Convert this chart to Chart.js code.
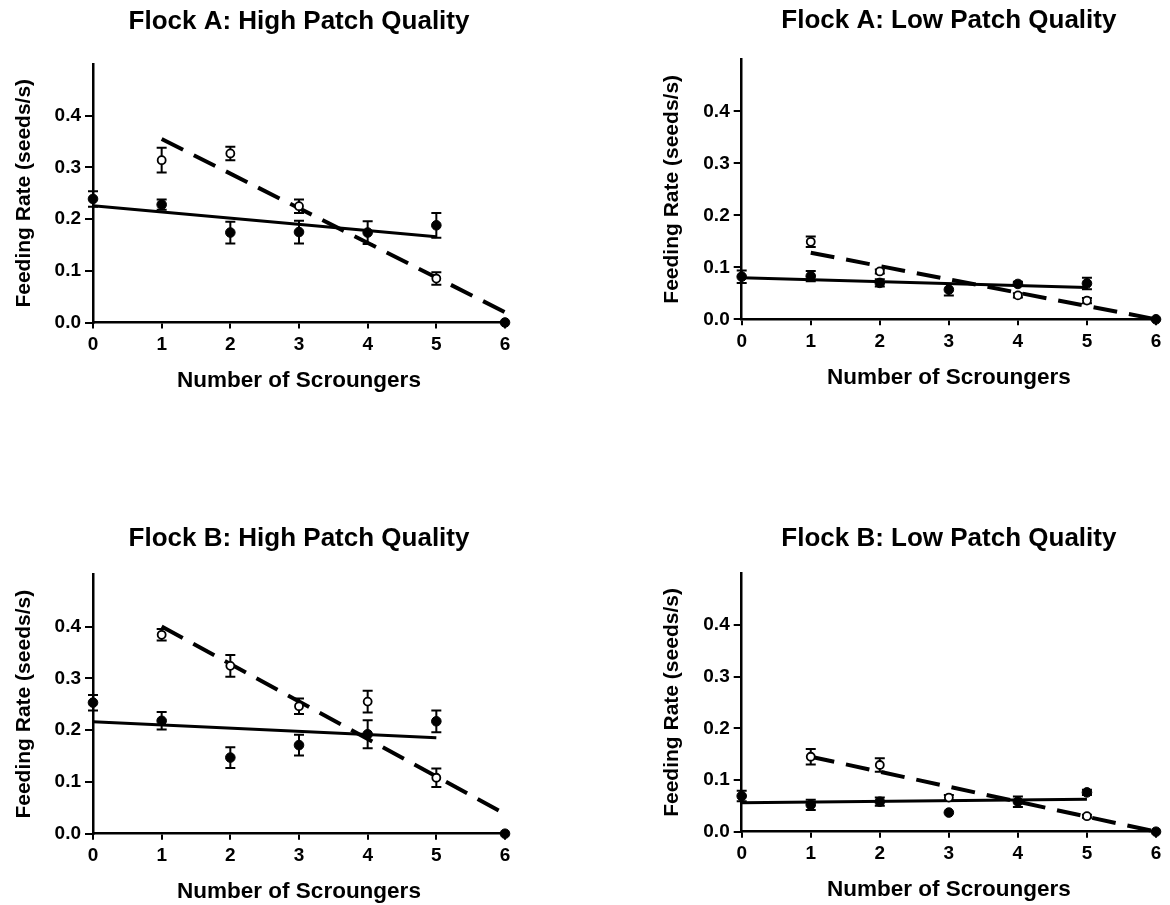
<!doctype html>
<html lang="en">
<head>
<meta charset="utf-8">
<title>Feeding rate and number of scroungers</title>
<style>
  html, body { margin: 0; padding: 0; background: #fff; }
  #wrap { position: relative; width: 1170px; height: 905px; overflow: hidden; background: #fff; }
  canvas { position: absolute; }
</style>
</head>
<body>
<div id="wrap">
  <canvas id="aHigh"></canvas>
  <canvas id="aLow"></canvas>
  <canvas id="bHigh"></canvas>
  <canvas id="bLow"></canvas>
</div>

<script src="https://cdn.jsdelivr.net/npm/chart.js"></script>
<script>
// ---- data ----
const scroungers = [0, 1, 2, 3, 4, 5, 6]
const filledFitX = [0, 5]
const openFitX = [1, 6]

// Flock A, high patch quality
const aHighFilled = [0.239, 0.228, 0.174, 0.175, 0.174, 0.188, 0.0]
const aHighFilledErr = [0.015, 0.010, 0.021, 0.022, 0.022, 0.024, 0]
const aHighOpen = [null, 0.314, 0.327, 0.225, null, 0.085, null]
const aHighOpenErr = [0, 0.024, 0.013, 0.013, 0, 0.012, 0]
const aHighFilledFit = [0.226, 0.166]
const aHighOpenFit = [0.355, 0.020]

// Flock A, low patch quality
const aLowFilled = [0.082, 0.083, 0.070, 0.057, 0.068, 0.069, 0.0]
const aLowFilledErr = [0.012, 0.010, 0.007, 0.011, 0.004, 0.011, 0]
const aLowOpen = [null, 0.149, 0.092, null, 0.046, 0.036, null]
const aLowOpenErr = [0, 0.010, 0.004, 0, 0.004, 0.005, 0]
const aLowFilledFit = [0.080, 0.061]
const aLowOpenFit = [0.128, 0.0]

// Flock B, high patch quality
const bHighFilled = [0.253, 0.218, 0.147, 0.171, 0.192, 0.217, 0.0]
const bHighFilledErr = [0.015, 0.017, 0.020, 0.020, 0.027, 0.021, 0]
const bHighOpen = [null, 0.384, 0.324, 0.246, 0.255, 0.108, null]
const bHighOpenErr = [0, 0.011, 0.021, 0.015, 0.021, 0.018, 0]
const bHighFilledFit = [0.216, 0.185]
const bHighOpenFit = [0.400, 0.038]

// Flock B, low patch quality
const bLowFilled = [0.069, 0.052, 0.058, 0.037, 0.058, 0.076, 0.0]
const bLowFilledErr = [0.010, 0.010, 0.008, 0, 0.010, 0.005, 0]
const bLowOpen = [null, 0.145, 0.129, 0.066, null, 0.030, null]
const bLowOpenErr = [0, 0.015, 0.013, 0.005, 0, 0.003, 0]
const bLowFilledFit = [0.056, 0.063]
const bLowOpenFit = [0.145, 0.0]

// ---- layout ----
const panels = [
  {
    id: 'aHigh', title: 'Flock A: High Patch Quality',
    box: { left: 0, top: 0, width: 580, height: 440 },
    area: { l: 93, r: 505, t: 64, b: 322.5 }, titleY: 22, yTitleX: 24,
    filled: aHighFilled, filledErr: aHighFilledErr, open: aHighOpen, openErr: aHighOpenErr,
    filledFit: aHighFilledFit, openFit: aHighOpenFit
  },
  {
    id: 'aLow', title: 'Flock A: Low Patch Quality',
    box: { left: 600, top: 0, width: 570, height: 440 },
    area: { l: 741.7, r: 1156, t: 59.3, b: 319.3 }, titleY: 21, yTitleX: 672,
    filled: aLowFilled, filledErr: aLowFilledErr, open: aLowOpen, openErr: aLowOpenErr,
    filledFit: aLowFilledFit, openFit: aLowOpenFit
  },
  {
    id: 'bHigh', title: 'Flock B: High Patch Quality',
    box: { left: 0, top: 480, width: 580, height: 430 },
    area: { l: 93, r: 505, t: 574.7, b: 833.7 }, titleY: 539, yTitleX: 24,
    filled: bHighFilled, filledErr: bHighFilledErr, open: bHighOpen, openErr: bHighOpenErr,
    filledFit: bHighFilledFit, openFit: bHighOpenFit
  },
  {
    id: 'bLow', title: 'Flock B: Low Patch Quality',
    box: { left: 600, top: 480, width: 570, height: 430 },
    area: { l: 741.7, r: 1156, t: 573.2, b: 831.7 }, titleY: 539, yTitleX: 672,
    filled: bLowFilled, filledErr: bLowFilledErr, open: bLowOpen, openErr: bLowOpenErr,
    filledFit: bLowFilledFit, openFit: bLowOpenFit
  }
]

Chart.defaults.font.family = '"Liberation Sans", Arial, Helvetica, sans-serif'
Chart.defaults.font.weight = 'bold'
Chart.defaults.color = '#000'

// vertical error bars with caps, drawn under the markers
const errorBars = {
  id: 'errorBars',
  beforeDatasetsDraw(chart) {
    const { ctx, scales: { x, y } } = chart
    ctx.save()
    ctx.strokeStyle = '#000'
    ctx.lineWidth = 2
    chart.data.datasets.forEach((ds) => {
      if (!ds.errors) return
      ds.data.forEach((pt, i) => {
        const e = ds.errors[i]
        if (!e || pt.y === null) return
        const px = x.getPixelForValue(pt.x)
        const top = y.getPixelForValue(pt.y + e)
        const bot = y.getPixelForValue(pt.y - e)
        ctx.beginPath()
        ctx.moveTo(px, top)
        ctx.lineTo(px, bot)
        ctx.moveTo(px - 5, top)
        ctx.lineTo(px + 5, top)
        ctx.moveTo(px - 5, bot)
        ctx.lineTo(px + 5, bot)
        ctx.stroke()
      })
    })
    ctx.restore()
  }
}

const toPoints = (xs, ys) => xs.map((x, i) => ({ x, y: ys[i] }))

function makeChart(p) {
  const canvas = document.getElementById(p.id)
  canvas.width = p.box.width
  canvas.height = p.box.height
  canvas.style.left = p.box.left + 'px'
  canvas.style.top = p.box.top + 'px'

  const cl = p.area.l - p.box.left
  const cr = p.area.r - p.box.left
  const ct = p.area.t - p.box.top
  const cb = p.area.b - p.box.top
  const xH = 75
  const titleSize = 26
  const titleLH = titleSize * 1.2
  const tY = p.titleY - p.box.top

  new Chart(canvas, {
    type: 'scatter',
    data: {
      datasets: [
        {
          data: toPoints(scroungers, p.filled),
          errors: p.filledErr,
          pointRadius: 4.8,
          pointBackgroundColor: '#000',
          pointBorderColor: '#000',
          pointBorderWidth: 1
        },
        {
          data: toPoints(scroungers, p.open),
          errors: p.openErr,
          pointRadius: 4,
          pointBackgroundColor: '#fff',
          pointBorderColor: '#000',
          pointBorderWidth: 1.8
        },
        {
          data: toPoints(filledFitX, p.filledFit),
          showLine: true,
          pointRadius: 0,
          borderColor: '#000',
          borderWidth: 3
        },
        {
          data: toPoints(openFitX, p.openFit),
          showLine: true,
          pointRadius: 0,
          borderColor: '#000',
          borderWidth: 4,
          borderDash: [24, 12]
        }
      ]
    },
    options: {
      responsive: false,
      animation: false,
      events: [],
      datasets: { scatter: { clip: false } },
      layout: {
        padding: { left: 0, top: 0, right: p.box.width - cr, bottom: p.box.height - cb - xH }
      },
      plugins: {
        legend: { display: false },
        tooltip: { enabled: false },
        title: {
          display: true,
          text: p.title,
          fullSize: false,
          color: '#000',
          font: { size: titleSize, weight: 'bold' },
          padding: { top: tY - titleLH / 2, bottom: ct - tY - titleLH / 2 }
        }
      },
      scales: {
        x: {
          type: 'linear',
          min: 0,
          max: 6,
          afterFit(scale) { scale.height = xH },
          ticks: { stepSize: 1, padding: 4.6, color: '#000', font: { size: 19, weight: 'bold' } },
          grid: { drawOnChartArea: false, drawTicks: true, tickLength: 6, color: '#000', lineWidth: 2 },
          border: { display: true, color: '#000', width: 2.5 },
          title: {
            display: true,
            text: 'Number of Scroungers',
            color: '#000',
            font: { size: 22.5, weight: 'bold' },
            padding: { top: 0, bottom: xH - 58 - 13.5 }
          }
        },
        y: {
          type: 'linear',
          min: 0,
          max: 0.5,
          afterFit(scale) { scale.width = cl },
          afterBuildTicks(scale) { scale.ticks = scale.ticks.filter((t) => t.value < 0.45) },
          ticks: {
            stepSize: 0.1,
            padding: 4,
            color: '#000',
            font: { size: 19, weight: 'bold' },
            callback: (v) => v.toFixed(1)
          },
          grid: { drawOnChartArea: false, drawTicks: true, tickLength: 8, color: '#000', lineWidth: 2 },
          border: { display: true, color: '#000', width: 2.5 },
          title: {
            display: true,
            text: 'Feeding Rate (seeds/s)',
            color: '#000',
            font: { size: 21, weight: 'bold' },
            padding: { top: p.yTitleX - p.box.left - 12.6, bottom: 0 }
          }
        }
      }
    },
    plugins: [errorBars]
  })
}

panels.forEach(makeChart)
</script>
</body>
</html>
